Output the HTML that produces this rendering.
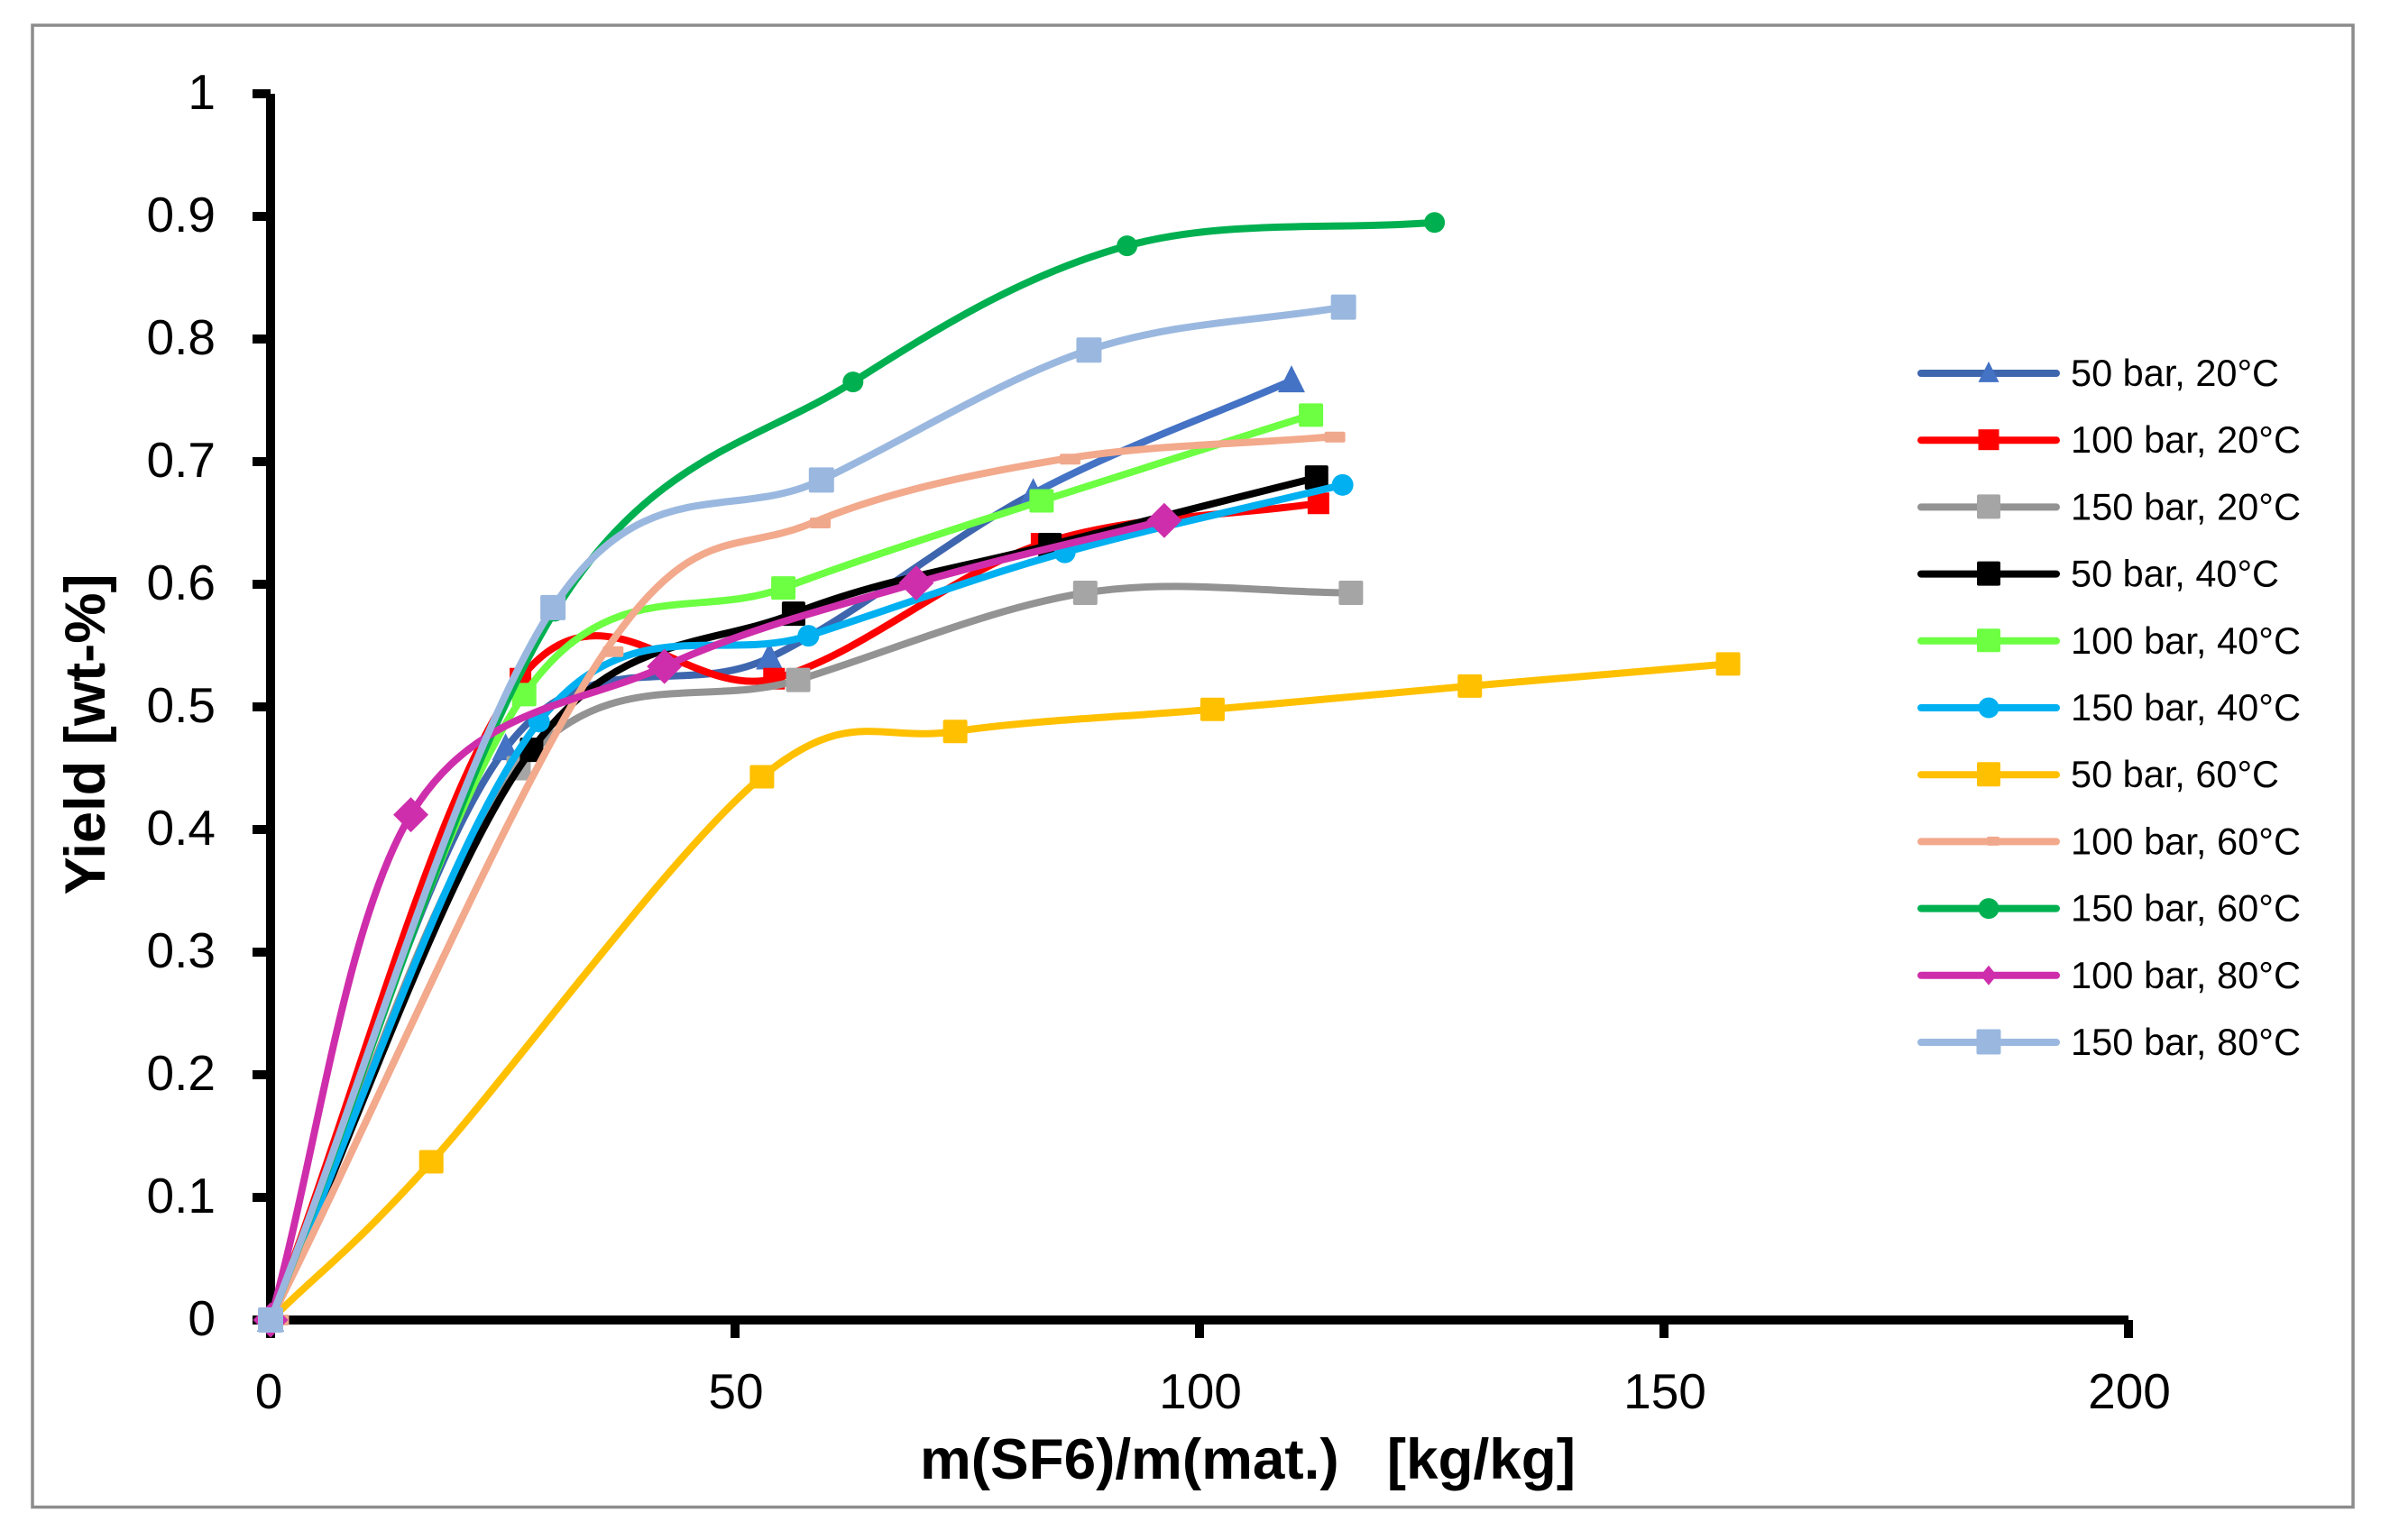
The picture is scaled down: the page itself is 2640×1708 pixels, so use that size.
<!DOCTYPE html>
<html lang="en">
<head>
<meta charset="utf-8">
<title>Yield vs m(SF6)/m(mat.)</title>
<style>
html,body{margin:0;padding:0;background:#fff;}
svg{display:block;}
text{font-family:"Liberation Sans",sans-serif;fill:#000;}
</style>
</head>
<body>
<svg id="chart" xmlns="http://www.w3.org/2000/svg" width="2640" height="1708" viewBox="0 0 2640 1708">
  <rect x="0" y="0" width="2640" height="1708" fill="#fff"/>
  <rect x="36" y="28" width="2573" height="1643.5" fill="none" stroke="#8c8c8c" stroke-width="3.5"/>
  <text transform="translate(116,814.5) rotate(-90)" text-anchor="middle" font-size="63.5" font-weight="700" textLength="356" lengthAdjust="spacingAndGlyphs">Yield [wt-%]</text>
  <text x="1383.5" y="1640" text-anchor="middle" font-size="63.5" font-weight="700" textLength="727" lengthAdjust="spacingAndGlyphs" xml:space="preserve">m(SF6)/m(mat.)   [kg/kg]</text>
  <g id="axes"></g>
  <g id="series"></g>
  <g id="legend"></g>
</svg>
<script>
// ---- chart data ----
const xTickLabels = [0, 50, 100, 150, 200];
const yTickLabels = ["0", "0.1", "0.2", "0.3", "0.4", "0.5", "0.6", "0.7", "0.8", "0.9", "1"];
const yTickValues = [0, 0.1, 0.2, 0.3, 0.4, 0.5, 0.6, 0.7, 0.8, 0.9, 1];
const seriesLabels = ["50 bar, 20°C", "100 bar, 20°C", "150 bar, 20°C", "50 bar, 40°C", "100 bar, 40°C", "150 bar, 40°C", "50 bar, 60°C", "100 bar, 60°C", "150 bar, 60°C", "100 bar, 80°C", "150 bar, 80°C"];

const x50bar20C = [0, 25.3, 53.7, 82.1, 109.9];
const y50bar20C = [0, 0.466, 0.54, 0.674, 0.766];
const x100bar20C = [0, 26.9, 54.2, 83, 112.8];
const y100bar20C = [0, 0.523, 0.523, 0.633, 0.666];
const x150bar20C = [0, 26.7, 56.8, 87.7, 116.3];
const y150bar20C = [0, 0.45, 0.522, 0.593, 0.593];
const x50bar40C = [0, 28.1, 56.3, 83.9, 112.6];
const y50bar40C = [0, 0.465, 0.576, 0.632, 0.687];
const x100bar40C = [0, 27.3, 55.2, 83, 112];
const y100bar40C = [0, 0.51, 0.597, 0.668, 0.738];
const x150bar40C = [0, 28.9, 57.9, 85.5, 115.4];
const y150bar40C = [0, 0.488, 0.558, 0.626, 0.681];
const x50bar60C = [0, 17.3, 52.9, 73.7, 101.4, 129.1, 156.9];
const y50bar60C = [0, 0.129, 0.443, 0.48, 0.498, 0.517, 0.535];
const x100bar60C = [0, 36.0, 58.3, 85.2, 113.7];
const y100bar60C = [0, 0.545, 0.65, 0.702, 0.72];
const x150bar60C = [0, 30.6, 62.7, 92.2, 125.3];
const y150bar60C = [0, 0.578, 0.765, 0.876, 0.895];
const x100bar80C = [0, 15.1, 42.4, 69.5, 96.2];
const y100bar80C = [0, 0.412, 0.533, 0.601, 0.652];
const x150bar80C = [0, 30.4, 59.3, 88.1, 115.5];
const y150bar80C = [0, 0.581, 0.685, 0.791, 0.826];

// ---- axis functions ----
const X0 = 300, XPERUNIT = 10.3, Y0 = 1464, YPERUNIT = 1360;
function xScale(v) { return X0 + v * XPERUNIT; }
function yScale(v) { return Y0 - v * YPERUNIT; }

const NS = "http://www.w3.org/2000/svg";
function mk(tag, attrs, parent) {
  const el = document.createElementNS(NS, tag);
  for (const k in attrs) el.setAttribute(k, attrs[k]);
  parent.appendChild(el);
  return el;
}

// ---- series styling ----
const seriesXs = [x50bar20C, x100bar20C, x150bar20C, x50bar40C, x100bar40C, x150bar40C, x50bar60C, x100bar60C, x150bar60C, x100bar80C, x150bar80C];
const seriesYs = [y50bar20C, y100bar20C, y150bar20C, y50bar40C, y100bar40C, y150bar40C, y50bar60C, y100bar60C, y150bar60C, y100bar80C, y150bar80C];
const seriesStyles = [
  {line:"#3e66ae", lastLine:"#4472c4", fill:"#4472c4", shape:"tri",  w:30, h:30, lw:23, lh:23},
  {line:"#ff0000", fill:"#ff0000", shape:"sq",   w:24, h:24, lw:23, lh:23, r:0},
  {line:"#939393", fill:"#a5a5a5", shape:"sq",   w:27, h:27, lw:26, lh:27, r:2},
  {line:"#000000", fill:"#000000", shape:"sq",   w:26, h:27, lw:26, lh:27, r:2},
  {line:"#6cff42", fill:"#6cff42", shape:"sq",   w:27, h:26, lw:26, lh:26, r:2},
  {line:"#00b0f0", fill:"#00b0f0", shape:"circ", w:24, h:24, lw:23, lh:23},
  {line:"#ffc000", fill:"#ffc000", shape:"sq",   w:27, h:26, lw:26, lh:27, r:2},
  {line:"#f2a98c", fill:"#f0a88c", shape:"sq",   w:23, h:12, lw:14, lh:10, r:2, dx:9, ldx:5},
  {line:"#00b050", fill:"#00b050", shape:"circ", w:23, h:23, lw:23, lh:23},
  {line:"#ce2eab", fill:"#ce2eab", shape:"diam", w:39, h:39, lw:18, lh:22},
  {line:"#9ab8df", fill:"#9ab8df", shape:"sq",   w:28, h:28, lw:27, lh:28, r:2}
];

// Excel-like smoothed line: Catmull-Rom segments as cubic beziers,
// with end tangents pointing along the end chord
function segmentPath(pts, i) {
  const p1 = pts[i], p2 = pts[i + 1];
  const p0 = i > 0 ? pts[i - 1] : [2 * p1[0] - p2[0], 2 * p1[1] - p2[1]];
  const p3 = i + 2 < pts.length ? pts[i + 2] : [2 * p2[0] - p1[0], 2 * p2[1] - p1[1]];
  const c1x = p1[0] + (p2[0] - p0[0]) / 6, c1y = p1[1] + (p2[1] - p0[1]) / 6;
  const c2x = p2[0] - (p3[0] - p1[0]) / 6, c2y = p2[1] - (p3[1] - p1[1]) / 6;
  return "C" + c1x.toFixed(1) + " " + c1y.toFixed(1) + " " + c2x.toFixed(1) + " " + c2y.toFixed(1) + " " + p2[0].toFixed(1) + " " + p2[1].toFixed(1);
}
function smoothPath(pts, from, to) {
  let d = "M" + pts[from][0].toFixed(1) + " " + pts[from][1].toFixed(1);
  for (let i = from; i < to; i++) d += segmentPath(pts, i);
  return d;
}

function drawMarker(parent, cx, cy, st, w, h) {
  let el;
  if (st.shape === "tri") {
    el = mk("polygon", {points: cx + "," + (cy - 0.57 * h) + " " + (cx + w / 2) + "," + (cy + 0.43 * h) + " " + (cx - w / 2) + "," + (cy + 0.43 * h), fill: st.fill}, parent);
  } else if (st.shape === "sq") {
    el = mk("rect", {x: cx - w / 2, y: cy - h / 2, width: w, height: h, rx: st.r || 0, fill: st.fill}, parent);
  } else if (st.shape === "circ") {
    el = mk("ellipse", {cx: cx, cy: cy, rx: w / 2, ry: h / 2, fill: st.fill}, parent);
  } else {
    el = mk("polygon", {points: cx + "," + (cy - h / 2) + " " + (cx + w / 2) + "," + cy + " " + cx + "," + (cy + h / 2) + " " + (cx - w / 2) + "," + cy, fill: st.fill}, parent);
  }
  return el;
}

// ---- axes ----
const axes = document.getElementById("axes");
const yAxisLine = mk("rect", {x: 295, y: yScale(1), width: 10, height: Y0 - yScale(1) + 5, fill: "#000"}, axes);


const xAxisLine = mk("rect", {x: X0, y: Y0 - 5, width: xScale(200) - X0, height: 10, fill: "#000"}, axes);



yTickValues.forEach(function (v, i) {
  const tick = mk("rect", {x: 280, y: yScale(v) - 5, width: 20, height: 10, fill: "#000"}, axes);
  
  
  const label = mk("text", {x: 239, y: yScale(v) + 17, "text-anchor": "end", "font-size": 55}, axes);
  label.textContent = yTickLabels[i];
  
  
});
xTickLabels.forEach(function (v) {
  const tick = mk("rect", {x: xScale(v) - 5, y: Y0, width: 10, height: 20, fill: "#000"}, axes);
  
  
  const label = mk("text", {x: xScale(v) + (v === 0 ? -2 : 1), y: 1562, "text-anchor": "middle", "font-size": 55}, axes);
  label.textContent = String(v);
  
  
});

// ---- series ----
const seriesGroup = document.getElementById("series");
seriesLabels.forEach(function (name, s) {
  const st = seriesStyles[s];
  const xs = seriesXs[s], ys = seriesYs[s];
  const pts = xs.map(function (x, i) { return [xScale(x), yScale(ys[i])]; });
  const g = mk("g", {}, seriesGroup);
  
  
  const n = pts.length - 1;
  const path = mk("path", {d: smoothPath(pts, 0, st.lastLine ? n - 1 : n), fill: "none", stroke: st.line, "stroke-width": 8, "stroke-linecap": "round", "stroke-linejoin": "round"}, g);
  
  
  if (st.lastLine) {
    const lastPath = mk("path", {d: smoothPath(pts, n - 1, n), fill: "none", stroke: st.lastLine, "stroke-width": 8, "stroke-linecap": "round"}, g);
    
    
  }
  pts.forEach(function (p) {
    const m = drawMarker(g, p[0] + (st.dx || 0), p[1], st, st.w, st.h);
    
    
  });
});

// ---- legend ----
const legend = document.getElementById("legend");
const LEG_Y0 = 414, LEG_STEP = 74.2;
seriesLabels.forEach(function (name, s) {
  const st = seriesStyles[s];
  const y = LEG_Y0 + s * LEG_STEP;
  const g = mk("g", {}, legend);
  
  
  const ln = mk("line", {x1: 2130, x2: 2280, y1: y, y2: y, stroke: st.line, "stroke-width": 8, "stroke-linecap": "round"}, g);
  
  
  const mark = drawMarker(g, 2205 + (st.ldx || 0), st.shape === "sq" ? y - 0.5 : y, st, st.lw, st.lh);
  
  
  const wide = name.charAt(2) !== " ";
  const t = mk("text", {x: 2296, y: y + 14, "font-size": 42, textLength: wide ? 255 : 231, lengthAdjust: "spacingAndGlyphs"}, g);
  t.textContent = name;
  
  
});
</script>
</body>
</html>
